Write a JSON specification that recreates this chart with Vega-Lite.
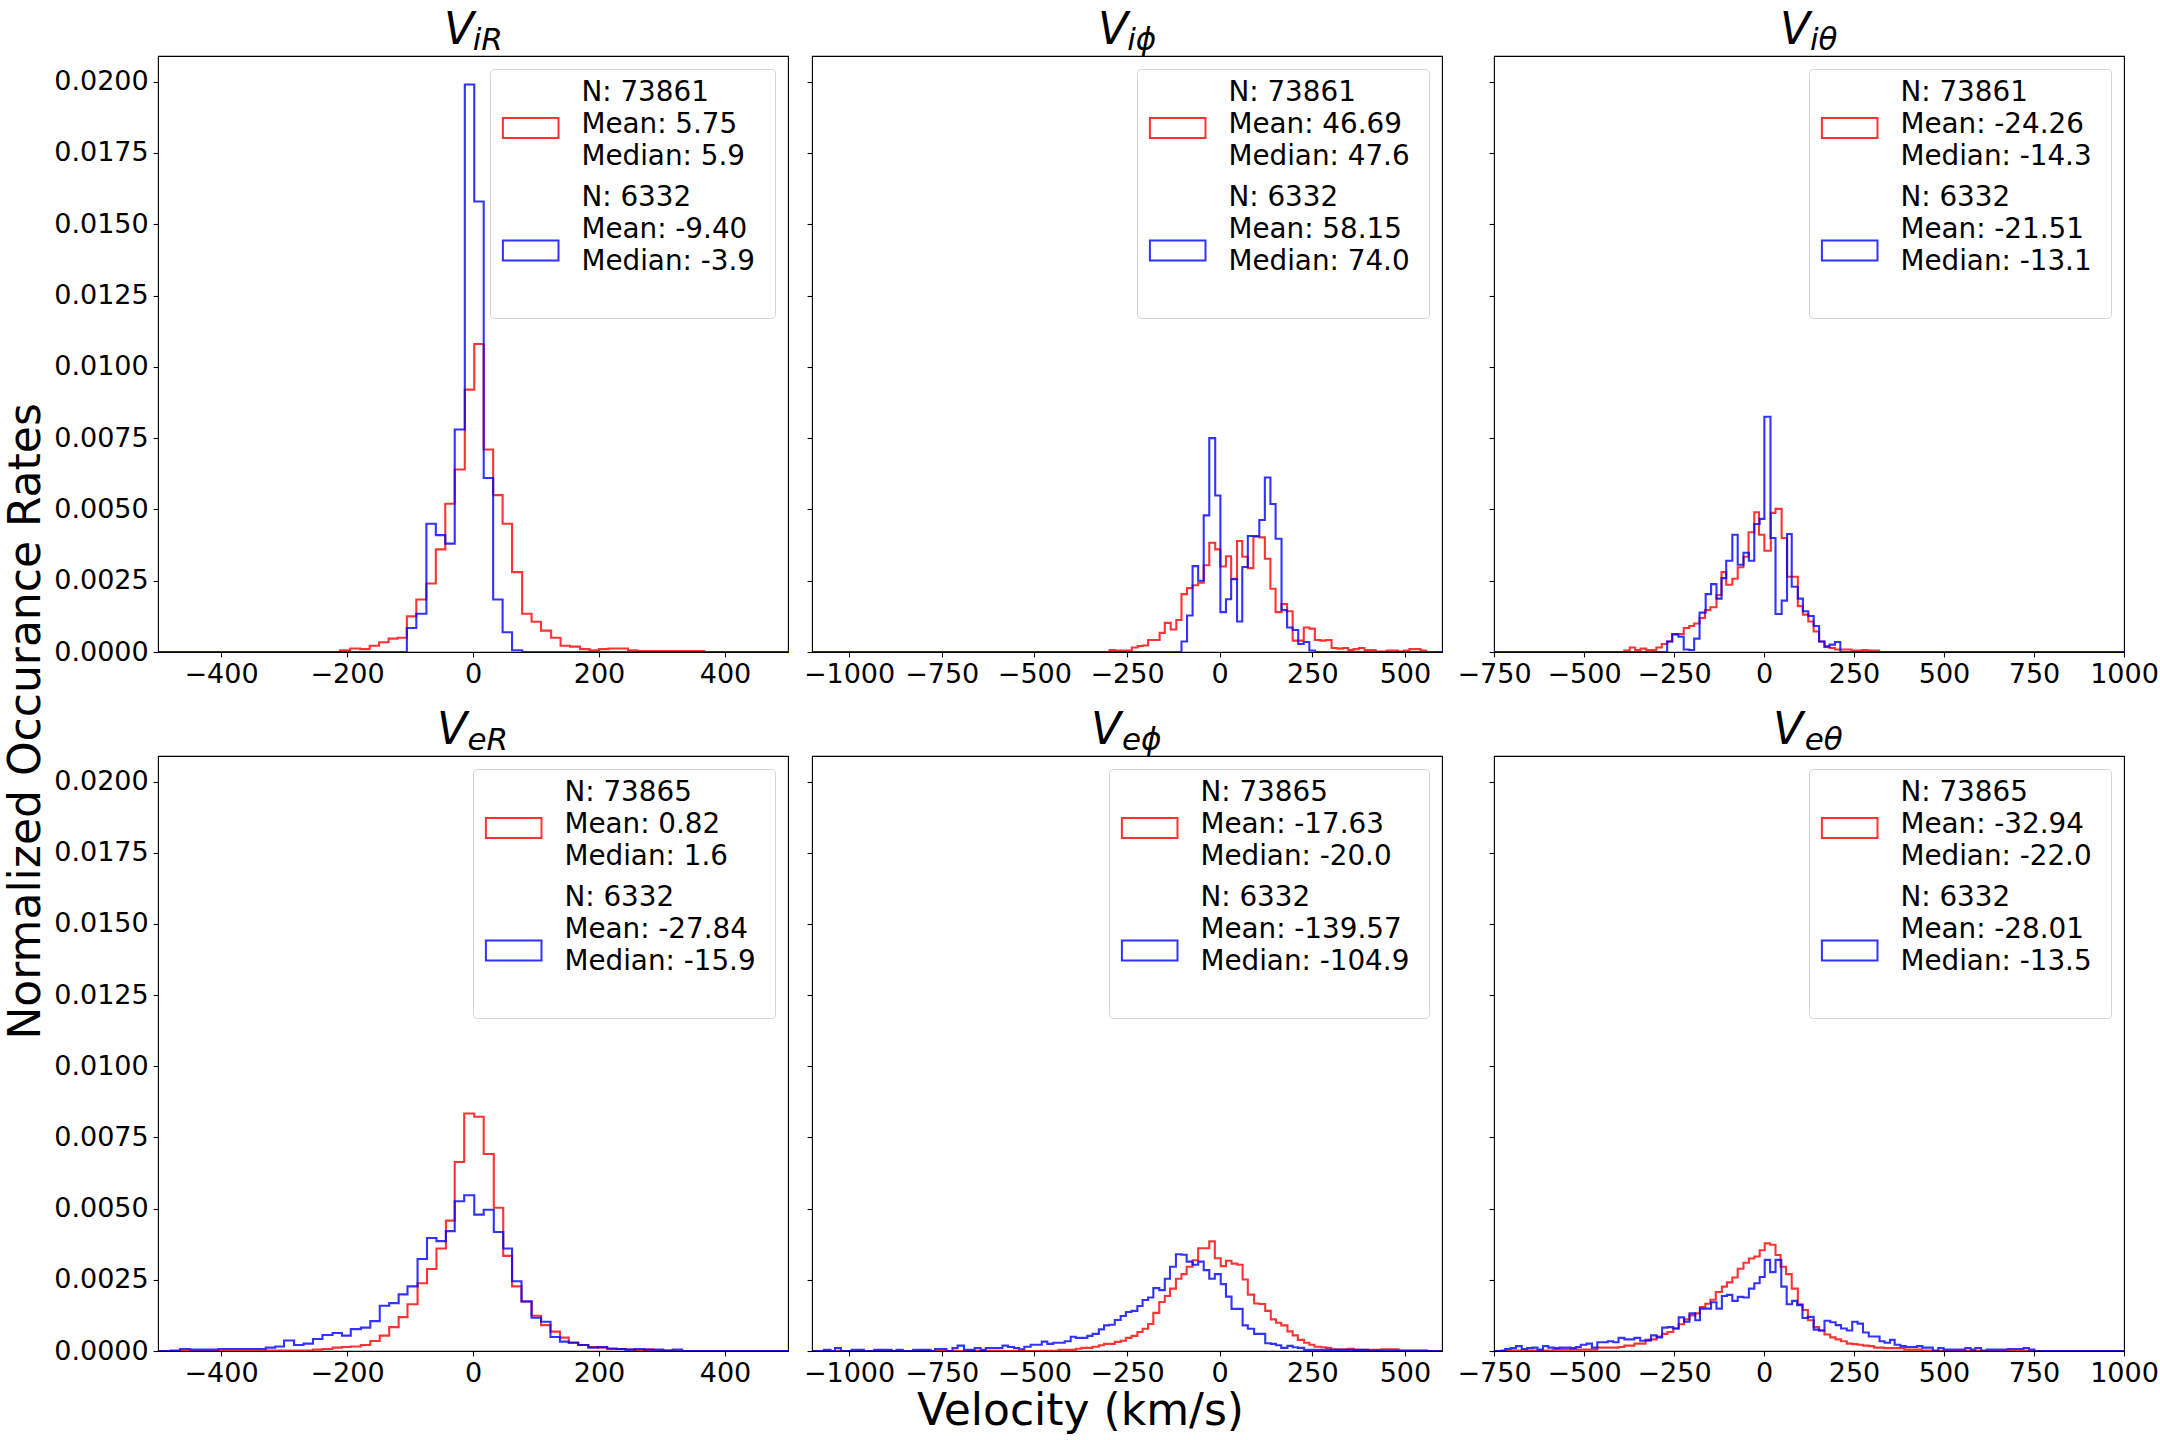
{
  "$schema": "https://vega.github.io/schema/vega-lite/v6.json",
  "background": "white",
  "padding": {"left": 5, "top": 8, "right": 2, "bottom": 2},
  "config": {
    "font": "DejaVu Sans",
    "view": {"stroke": "black", "strokeWidth": 1.1},
    "style": {"guide-label": {"lineHeight": 32}},
    "axis": {
      "domain": false,
      "grid": false,
      "labelFont": "DejaVu Sans",
      "labelFontSize": 27,
      "labelColor": "black",
      "labelPadding": 4.9,
      "labelFlush": false,
      "labelOverlap": false,
      "tickColor": "black",
      "tickSize": 4.9,
      "tickWidth": 1.1,
      "titleFont": "DejaVu Sans",
      "titleFontSize": 44,
      "titleFontWeight": "normal",
      "titleColor": "black"
    },
    "legend": {
      "orient": "top-right",
      "offset": 13,
      "padding": 10,
      "cornerRadius": 4,
      "strokeColor": "#d4d4d4",
      "fillColor": "white",
      "labelFont": "DejaVu Sans",
      "labelFontSize": 27.8,
      "labelColor": "black",
      "labelLimit": 0,
      "labelOffset": 53.6,
      "rowPadding": 12,
      "symbolSize": 400,
      "symbolStrokeWidth": 2,
      "symbolOpacity": 0.8
    },
    "title": {
      "font": "DejaVu Sans",
      "fontSize": 44,
      "fontStyle": "italic",
      "fontWeight": "normal",
      "color": "black",
      "subtitleFont": "DejaVu Sans",
      "subtitleFontSize": 31,
      "subtitleFontStyle": "italic",
      "subtitleColor": "black",
      "subtitlePadding": -27,
      "anchor": "middle",
      "offset": 0.01
    }
  },
  "data": {
    "values": [
      {"p":"iR","s":"a","x":-500,"y":0},{"p":"iR","s":"a","x":-211,"y":0.00006},{"p":"iR","s":"a","x":-195,"y":0.000125},{"p":"iR","s":"a","x":-179,"y":0.0001},{"p":"iR","s":"a","x":-164,"y":0.00022},{"p":"iR","s":"a","x":-149,"y":0.00034},{"p":"iR","s":"a","x":-134,"y":0.00047},{"p":"iR","s":"a","x":-120,"y":0.0005},{"p":"iR","s":"a","x":-105,"y":0.00125},{"p":"iR","s":"a","x":-90,"y":0.00184},{"p":"iR","s":"a","x":-74,"y":0.0024},{"p":"iR","s":"a","x":-59,"y":0.0036},{"p":"iR","s":"a","x":-44,"y":0.0052},{"p":"iR","s":"a","x":-29,"y":0.0064},{"p":"iR","s":"a","x":-13,"y":0.0092},{"p":"iR","s":"a","x":2,"y":0.0108},{"p":"iR","s":"a","x":17,"y":0.0071},{"p":"iR","s":"a","x":32,"y":0.0055},{"p":"iR","s":"a","x":47,"y":0.0045},{"p":"iR","s":"a","x":62,"y":0.0028},{"p":"iR","s":"a","x":78,"y":0.00134},{"p":"iR","s":"a","x":93,"y":0.00106},{"p":"iR","s":"a","x":108,"y":0.00075},{"p":"iR","s":"a","x":124,"y":0.0005},{"p":"iR","s":"a","x":139,"y":0.00022},{"p":"iR","s":"a","x":154,"y":0.00019},{"p":"iR","s":"a","x":170,"y":0.0001},{"p":"iR","s":"a","x":185,"y":0.00006},{"p":"iR","s":"a","x":200,"y":0.0001},{"p":"iR","s":"a","x":215,"y":0.000125},{"p":"iR","s":"a","x":230,"y":0.000125},{"p":"iR","s":"a","x":246,"y":0.00006},{"p":"iR","s":"a","x":261,"y":0.00003},{"p":"iR","s":"a","x":367,"y":0},{"p":"iR","s":"a","x":500,"y":0},
      {"p":"iR","s":"b","x":-500,"y":0},{"p":"iR","s":"b","x":-105,"y":0.00084},{"p":"iR","s":"b","x":-90,"y":0.00134},{"p":"iR","s":"b","x":-74,"y":0.0045},{"p":"iR","s":"b","x":-59,"y":0.0041},{"p":"iR","s":"b","x":-44,"y":0.0038},{"p":"iR","s":"b","x":-29,"y":0.0078},{"p":"iR","s":"b","x":-13,"y":0.0199},{"p":"iR","s":"b","x":2,"y":0.0158},{"p":"iR","s":"b","x":17,"y":0.0061},{"p":"iR","s":"b","x":32,"y":0.00184},{"p":"iR","s":"b","x":47,"y":0.00069},{"p":"iR","s":"b","x":62,"y":0.00006},{"p":"iR","s":"b","x":78,"y":0},{"p":"iR","s":"b","x":500,"y":0},

      {"p":"iphi","s":"a","x":-1100,"y":0},{"p":"iphi","s":"a","x":-297,"y":0.00007},{"p":"iphi","s":"a","x":-282,"y":0.00005},{"p":"iphi","s":"a","x":-237,"y":0.00016},{"p":"iphi","s":"a","x":-221,"y":0.00021},{"p":"iphi","s":"a","x":-208,"y":0.00023},{"p":"iphi","s":"a","x":-193,"y":0.00042},{"p":"iphi","s":"a","x":-162,"y":0.00067},{"p":"iphi","s":"a","x":-148,"y":0.00102},{"p":"iphi","s":"a","x":-132,"y":0.00079},{"p":"iphi","s":"a","x":-117,"y":0.00112},{"p":"iphi","s":"a","x":-103,"y":0.00203},{"p":"iphi","s":"a","x":-88,"y":0.00224},{"p":"iphi","s":"a","x":-73,"y":0.00234},{"p":"iphi","s":"a","x":-58,"y":0.00243},{"p":"iphi","s":"a","x":-43,"y":0.00304},{"p":"iphi","s":"a","x":-28,"y":0.00383},{"p":"iphi","s":"a","x":-12,"y":0.0036},{"p":"iphi","s":"a","x":2,"y":0.003},{"p":"iphi","s":"a","x":17,"y":0.00336},{"p":"iphi","s":"a","x":31,"y":0.00257},{"p":"iphi","s":"a","x":47,"y":0.00389},{"p":"iphi","s":"a","x":61,"y":0.00334},{"p":"iphi","s":"a","x":76,"y":0.00294},{"p":"iphi","s":"a","x":91,"y":0.00404},{"p":"iphi","s":"a","x":107,"y":0.00402},{"p":"iphi","s":"a","x":122,"y":0.00327},{"p":"iphi","s":"a","x":137,"y":0.00222},{"p":"iphi","s":"a","x":151,"y":0.0014},{"p":"iphi","s":"a","x":167,"y":0.00168},{"p":"iphi","s":"a","x":182,"y":0.00143},{"p":"iphi","s":"a","x":197,"y":0.0004},{"p":"iphi","s":"a","x":212,"y":0.0004},{"p":"iphi","s":"a","x":227,"y":0.00086},{"p":"iphi","s":"a","x":242,"y":0.00082},{"p":"iphi","s":"a","x":257,"y":0.00042},{"p":"iphi","s":"a","x":272,"y":0.0004},{"p":"iphi","s":"a","x":287,"y":0.00042},{"p":"iphi","s":"a","x":302,"y":0.00014},{"p":"iphi","s":"a","x":318,"y":0.00012},{"p":"iphi","s":"a","x":333,"y":0.00014},{"p":"iphi","s":"a","x":347,"y":0.00007},{"p":"iphi","s":"a","x":361,"y":0.0001},{"p":"iphi","s":"a","x":376,"y":0.00014},{"p":"iphi","s":"a","x":391,"y":0.00007},{"p":"iphi","s":"a","x":421,"y":0.00002},{"p":"iphi","s":"a","x":451,"y":0.00005},{"p":"iphi","s":"a","x":481,"y":0.00002},{"p":"iphi","s":"a","x":497,"y":0.00005},{"p":"iphi","s":"a","x":512,"y":0.0001},{"p":"iphi","s":"a","x":542,"y":0.00005},{"p":"iphi","s":"a","x":557,"y":0},{"p":"iphi","s":"a","x":600,"y":0},
      {"p":"iphi","s":"b","x":-1100,"y":0},{"p":"iphi","s":"b","x":-103,"y":0.00037},{"p":"iphi","s":"b","x":-88,"y":0.00128},{"p":"iphi","s":"b","x":-73,"y":0.00301},{"p":"iphi","s":"b","x":-58,"y":0.0025},{"p":"iphi","s":"b","x":-43,"y":0.00479},{"p":"iphi","s":"b","x":-28,"y":0.0075},{"p":"iphi","s":"b","x":-12,"y":0.00549},{"p":"iphi","s":"b","x":2,"y":0.0014},{"p":"iphi","s":"b","x":17,"y":0.00185},{"p":"iphi","s":"b","x":31,"y":0.00255},{"p":"iphi","s":"b","x":47,"y":0.00107},{"p":"iphi","s":"b","x":61,"y":0.00298},{"p":"iphi","s":"b","x":76,"y":0.00407},{"p":"iphi","s":"b","x":107,"y":0.00463},{"p":"iphi","s":"b","x":122,"y":0.00612},{"p":"iphi","s":"b","x":137,"y":0.00519},{"p":"iphi","s":"b","x":151,"y":0.00397},{"p":"iphi","s":"b","x":167,"y":0.00147},{"p":"iphi","s":"b","x":182,"y":0.00086},{"p":"iphi","s":"b","x":197,"y":0.00077},{"p":"iphi","s":"b","x":212,"y":0.00028},{"p":"iphi","s":"b","x":227,"y":0.00035},{"p":"iphi","s":"b","x":242,"y":0.00005},{"p":"iphi","s":"b","x":257,"y":0},{"p":"iphi","s":"b","x":600,"y":0},

      {"p":"itheta","s":"a","x":-750,"y":0},{"p":"itheta","s":"a","x":-388,"y":0.00005},{"p":"itheta","s":"a","x":-373,"y":0.00016},{"p":"itheta","s":"a","x":-358,"y":0.00007},{"p":"itheta","s":"a","x":-343,"y":0.00012},{"p":"itheta","s":"a","x":-327,"y":0.00007},{"p":"itheta","s":"a","x":-299,"y":0.00016},{"p":"itheta","s":"a","x":-284,"y":0.00028},{"p":"itheta","s":"a","x":-269,"y":0.00037},{"p":"itheta","s":"a","x":-255,"y":0.00061},{"p":"itheta","s":"a","x":-240,"y":0.00063},{"p":"itheta","s":"a","x":-223,"y":0.00084},{"p":"itheta","s":"a","x":-208,"y":0.00091},{"p":"itheta","s":"a","x":-194,"y":0.001},{"p":"itheta","s":"a","x":-179,"y":0.00119},{"p":"itheta","s":"a","x":-164,"y":0.00147},{"p":"itheta","s":"a","x":-149,"y":0.00157},{"p":"itheta","s":"a","x":-132,"y":0.002},{"p":"itheta","s":"a","x":-118,"y":0.0028},{"p":"itheta","s":"a","x":-105,"y":0.00236},{"p":"itheta","s":"a","x":-88,"y":0.00257},{"p":"itheta","s":"a","x":-73,"y":0.00297},{"p":"itheta","s":"a","x":-57,"y":0.00334},{"p":"itheta","s":"a","x":-43,"y":0.0042},{"p":"itheta","s":"a","x":-27,"y":0.0049},{"p":"itheta","s":"a","x":-14,"y":0.00411},{"p":"itheta","s":"a","x":1,"y":0.00355},{"p":"itheta","s":"a","x":19,"y":0.00488},{"p":"itheta","s":"a","x":32,"y":0.00502},{"p":"itheta","s":"a","x":49,"y":0.004},{"p":"itheta","s":"a","x":64,"y":0.00264},{"p":"itheta","s":"a","x":94,"y":0.00161},{"p":"itheta","s":"a","x":108,"y":0.00131},{"p":"itheta","s":"a","x":123,"y":0.00107},{"p":"itheta","s":"a","x":138,"y":0.00072},{"p":"itheta","s":"a","x":153,"y":0.00037},{"p":"itheta","s":"a","x":168,"y":0.00019},{"p":"itheta","s":"a","x":182,"y":0.00014},{"p":"itheta","s":"a","x":197,"y":0.00009},{"p":"itheta","s":"a","x":243,"y":0.00005},{"p":"itheta","s":"a","x":273,"y":0.00007},{"p":"itheta","s":"a","x":288,"y":0.00005},{"p":"itheta","s":"a","x":319,"y":0},{"p":"itheta","s":"a","x":1000,"y":0},
      {"p":"itheta","s":"b","x":-750,"y":0},{"p":"itheta","s":"b","x":-269,"y":0.00037},{"p":"itheta","s":"b","x":-255,"y":0.00063},{"p":"itheta","s":"b","x":-238,"y":0.00054},{"p":"itheta","s":"b","x":-223,"y":0.00009},{"p":"itheta","s":"b","x":-208,"y":0.00007},{"p":"itheta","s":"b","x":-194,"y":0.00047},{"p":"itheta","s":"b","x":-179,"y":0.00138},{"p":"itheta","s":"b","x":-162,"y":0.00203},{"p":"itheta","s":"b","x":-147,"y":0.00238},{"p":"itheta","s":"b","x":-132,"y":0.00187},{"p":"itheta","s":"b","x":-118,"y":0.00259},{"p":"itheta","s":"b","x":-105,"y":0.0032},{"p":"itheta","s":"b","x":-88,"y":0.00411},{"p":"itheta","s":"b","x":-73,"y":0.00306},{"p":"itheta","s":"b","x":-57,"y":0.00348},{"p":"itheta","s":"b","x":-42,"y":0.0032},{"p":"itheta","s":"b","x":-27,"y":0.00449},{"p":"itheta","s":"b","x":-12,"y":0.00467},{"p":"itheta","s":"b","x":1,"y":0.00825},{"p":"itheta","s":"b","x":18,"y":0.004},{"p":"itheta","s":"b","x":32,"y":0.00133},{"p":"itheta","s":"b","x":49,"y":0.0018},{"p":"itheta","s":"b","x":64,"y":0.00414},{"p":"itheta","s":"b","x":77,"y":0.00229},{"p":"itheta","s":"b","x":94,"y":0.00187},{"p":"itheta","s":"b","x":108,"y":0.00143},{"p":"itheta","s":"b","x":123,"y":0.00126},{"p":"itheta","s":"b","x":138,"y":0.00091},{"p":"itheta","s":"b","x":153,"y":0.00037},{"p":"itheta","s":"b","x":168,"y":0.00019},{"p":"itheta","s":"b","x":182,"y":0.00026},{"p":"itheta","s":"b","x":197,"y":0.00035},{"p":"itheta","s":"b","x":212,"y":0},{"p":"itheta","s":"b","x":1000,"y":0},

      {"p":"eR","s":"a","x":-500,"y":0},{"p":"eR","s":"a","x":-329,"y":0.00002},{"p":"eR","s":"a","x":-254,"y":0.00005},{"p":"eR","s":"a","x":-239,"y":0.00007},{"p":"eR","s":"a","x":-223,"y":0.00012},{"p":"eR","s":"a","x":-208,"y":0.00014},{"p":"eR","s":"a","x":-194,"y":0.00016},{"p":"eR","s":"a","x":-178,"y":0.00021},{"p":"eR","s":"a","x":-163,"y":0.00035},{"p":"eR","s":"a","x":-148,"y":0.00054},{"p":"eR","s":"a","x":-133,"y":0.00084},{"p":"eR","s":"a","x":-118,"y":0.00119},{"p":"eR","s":"a","x":-104,"y":0.00164},{"p":"eR","s":"a","x":-88,"y":0.00238},{"p":"eR","s":"a","x":-73,"y":0.00288},{"p":"eR","s":"a","x":-58,"y":0.0036},{"p":"eR","s":"a","x":-43,"y":0.00458},{"p":"eR","s":"a","x":-29,"y":0.00664},{"p":"eR","s":"a","x":-14,"y":0.00834},{"p":"eR","s":"a","x":2,"y":0.00823},{"p":"eR","s":"a","x":17,"y":0.00692},{"p":"eR","s":"a","x":33,"y":0.00503},{"p":"eR","s":"a","x":48,"y":0.00334},{"p":"eR","s":"a","x":62,"y":0.00227},{"p":"eR","s":"a","x":77,"y":0.00173},{"p":"eR","s":"a","x":93,"y":0.00124},{"p":"eR","s":"a","x":108,"y":0.00091},{"p":"eR","s":"a","x":123,"y":0.00068},{"p":"eR","s":"a","x":138,"y":0.00047},{"p":"eR","s":"a","x":152,"y":0.00028},{"p":"eR","s":"a","x":167,"y":0.00021},{"p":"eR","s":"a","x":183,"y":0.00014},{"p":"eR","s":"a","x":198,"y":0.00012},{"p":"eR","s":"a","x":213,"y":0.00007},{"p":"eR","s":"a","x":242,"y":0.00005},{"p":"eR","s":"a","x":257,"y":0.00002},{"p":"eR","s":"a","x":272,"y":0.00005},{"p":"eR","s":"a","x":287,"y":0.00002},{"p":"eR","s":"a","x":317,"y":0},{"p":"eR","s":"a","x":500,"y":0},
      {"p":"eR","s":"b","x":-500,"y":0},{"p":"eR","s":"b","x":-480,"y":0.00002},{"p":"eR","s":"b","x":-465,"y":0.00007},{"p":"eR","s":"b","x":-449,"y":0.00005},{"p":"eR","s":"b","x":-404,"y":0.00007},{"p":"eR","s":"b","x":-329,"y":0.00012},{"p":"eR","s":"b","x":-314,"y":0.00016},{"p":"eR","s":"b","x":-300,"y":0.00037},{"p":"eR","s":"b","x":-284,"y":0.00021},{"p":"eR","s":"b","x":-269,"y":0.00026},{"p":"eR","s":"b","x":-254,"y":0.00042},{"p":"eR","s":"b","x":-239,"y":0.00056},{"p":"eR","s":"b","x":-223,"y":0.00063},{"p":"eR","s":"b","x":-208,"y":0.00054},{"p":"eR","s":"b","x":-194,"y":0.00077},{"p":"eR","s":"b","x":-178,"y":0.00082},{"p":"eR","s":"b","x":-163,"y":0.00105},{"p":"eR","s":"b","x":-148,"y":0.00159},{"p":"eR","s":"b","x":-133,"y":0.00168},{"p":"eR","s":"b","x":-118,"y":0.00199},{"p":"eR","s":"b","x":-104,"y":0.00227},{"p":"eR","s":"b","x":-88,"y":0.00323},{"p":"eR","s":"b","x":-73,"y":0.00397},{"p":"eR","s":"b","x":-58,"y":0.00386},{"p":"eR","s":"b","x":-43,"y":0.00421},{"p":"eR","s":"b","x":-29,"y":0.00526},{"p":"eR","s":"b","x":-14,"y":0.00547},{"p":"eR","s":"b","x":2,"y":0.00479},{"p":"eR","s":"b","x":17,"y":0.00496},{"p":"eR","s":"b","x":33,"y":0.00418},{"p":"eR","s":"b","x":48,"y":0.0036},{"p":"eR","s":"b","x":62,"y":0.00245},{"p":"eR","s":"b","x":77,"y":0.00175},{"p":"eR","s":"b","x":93,"y":0.00117},{"p":"eR","s":"b","x":108,"y":0.00103},{"p":"eR","s":"b","x":123,"y":0.00049},{"p":"eR","s":"b","x":138,"y":0.00033},{"p":"eR","s":"b","x":152,"y":0.0003},{"p":"eR","s":"b","x":167,"y":0.00021},{"p":"eR","s":"b","x":183,"y":0.00012},{"p":"eR","s":"b","x":198,"y":0.00014},{"p":"eR","s":"b","x":213,"y":0.00009},{"p":"eR","s":"b","x":228,"y":0.00007},{"p":"eR","s":"b","x":242,"y":0.00005},{"p":"eR","s":"b","x":257,"y":0.00007},{"p":"eR","s":"b","x":272,"y":0.00005},{"p":"eR","s":"b","x":302,"y":0.00002},{"p":"eR","s":"b","x":317,"y":0.00005},{"p":"eR","s":"b","x":332,"y":0},{"p":"eR","s":"b","x":500,"y":0},

      {"p":"ephi","s":"a","x":-1100,"y":0},{"p":"ephi","s":"a","x":-481,"y":0.00001},{"p":"ephi","s":"a","x":-434,"y":0.00004},{"p":"ephi","s":"a","x":-388,"y":0.00008},{"p":"ephi","s":"a","x":-373,"y":0.00011},{"p":"ephi","s":"a","x":-343,"y":0.00015},{"p":"ephi","s":"a","x":-326,"y":0.0002},{"p":"ephi","s":"a","x":-312,"y":0.00025},{"p":"ephi","s":"a","x":-283,"y":0.00032},{"p":"ephi","s":"a","x":-267,"y":0.00036},{"p":"ephi","s":"a","x":-253,"y":0.00046},{"p":"ephi","s":"a","x":-238,"y":0.00053},{"p":"ephi","s":"a","x":-222,"y":0.00067},{"p":"ephi","s":"a","x":-208,"y":0.00078},{"p":"ephi","s":"a","x":-193,"y":0.00095},{"p":"ephi","s":"a","x":-179,"y":0.00134},{"p":"ephi","s":"a","x":-163,"y":0.00172},{"p":"ephi","s":"a","x":-148,"y":0.00193},{"p":"ephi","s":"a","x":-134,"y":0.00219},{"p":"ephi","s":"a","x":-118,"y":0.00254},{"p":"ephi","s":"a","x":-103,"y":0.0027},{"p":"ephi","s":"a","x":-89,"y":0.00296},{"p":"ephi","s":"a","x":-73,"y":0.00319},{"p":"ephi","s":"a","x":-58,"y":0.00361},{"p":"ephi","s":"a","x":-28,"y":0.00385},{"p":"ephi","s":"a","x":-13,"y":0.00326},{"p":"ephi","s":"a","x":3,"y":0.00298},{"p":"ephi","s":"a","x":17,"y":0.00317},{"p":"ephi","s":"a","x":32,"y":0.00307},{"p":"ephi","s":"a","x":48,"y":0.00303},{"p":"ephi","s":"a","x":62,"y":0.00251},{"p":"ephi","s":"a","x":76,"y":0.00198},{"p":"ephi","s":"a","x":93,"y":0.00167},{"p":"ephi","s":"a","x":107,"y":0.00165},{"p":"ephi","s":"a","x":123,"y":0.00141},{"p":"ephi","s":"a","x":138,"y":0.00111},{"p":"ephi","s":"a","x":152,"y":0.00099},{"p":"ephi","s":"a","x":166,"y":0.0009},{"p":"ephi","s":"a","x":183,"y":0.00069},{"p":"ephi","s":"a","x":197,"y":0.00055},{"p":"ephi","s":"a","x":211,"y":0.00039},{"p":"ephi","s":"a","x":228,"y":0.00029},{"p":"ephi","s":"a","x":242,"y":0.00022},{"p":"ephi","s":"a","x":256,"y":0.00015},{"p":"ephi","s":"a","x":273,"y":0.00013},{"p":"ephi","s":"a","x":287,"y":0.00011},{"p":"ephi","s":"a","x":301,"y":0.00006},{"p":"ephi","s":"a","x":346,"y":0.00008},{"p":"ephi","s":"a","x":362,"y":0.00004},{"p":"ephi","s":"a","x":436,"y":0.00006},{"p":"ephi","s":"a","x":483,"y":0.00001},{"p":"ephi","s":"a","x":560,"y":0},{"p":"ephi","s":"a","x":600,"y":0},
      {"p":"ephi","s":"b","x":-1100,"y":0},{"p":"ephi","s":"b","x":-1068,"y":0.00004},{"p":"ephi","s":"b","x":-1050,"y":0},{"p":"ephi","s":"b","x":-1038,"y":0.0001},{"p":"ephi","s":"b","x":-1022,"y":0},{"p":"ephi","s":"b","x":-993,"y":0.00004},{"p":"ephi","s":"b","x":-960,"y":0},{"p":"ephi","s":"b","x":-932,"y":0.00004},{"p":"ephi","s":"b","x":-885,"y":0},{"p":"ephi","s":"b","x":-872,"y":0.00004},{"p":"ephi","s":"b","x":-855,"y":0},{"p":"ephi","s":"b","x":-827,"y":0.00004},{"p":"ephi","s":"b","x":-780,"y":0},{"p":"ephi","s":"b","x":-768,"y":0.00007},{"p":"ephi","s":"b","x":-737,"y":0},{"p":"ephi","s":"b","x":-721,"y":0.0001},{"p":"ephi","s":"b","x":-707,"y":0.00019},{"p":"ephi","s":"b","x":-690,"y":0.00004},{"p":"ephi","s":"b","x":-661,"y":0.0001},{"p":"ephi","s":"b","x":-645,"y":0.00004},{"p":"ephi","s":"b","x":-631,"y":0.0001},{"p":"ephi","s":"b","x":-586,"y":0.00019},{"p":"ephi","s":"b","x":-571,"y":0.00014},{"p":"ephi","s":"b","x":-555,"y":0.0001},{"p":"ephi","s":"b","x":-541,"y":0.00006},{"p":"ephi","s":"b","x":-527,"y":0.00015},{"p":"ephi","s":"b","x":-510,"y":0.00022},{"p":"ephi","s":"b","x":-480,"y":0.00033},{"p":"ephi","s":"b","x":-465,"y":0.00025},{"p":"ephi","s":"b","x":-449,"y":0.00029},{"p":"ephi","s":"b","x":-418,"y":0.00034},{"p":"ephi","s":"b","x":-402,"y":0.0005},{"p":"ephi","s":"b","x":-388,"y":0.00046},{"p":"ephi","s":"b","x":-357,"y":0.00053},{"p":"ephi","s":"b","x":-343,"y":0.0006},{"p":"ephi","s":"b","x":-326,"y":0.00076},{"p":"ephi","s":"b","x":-312,"y":0.0009},{"p":"ephi","s":"b","x":-298,"y":0.00092},{"p":"ephi","s":"b","x":-283,"y":0.00109},{"p":"ephi","s":"b","x":-267,"y":0.00123},{"p":"ephi","s":"b","x":-253,"y":0.00137},{"p":"ephi","s":"b","x":-238,"y":0.00141},{"p":"ephi","s":"b","x":-222,"y":0.00158},{"p":"ephi","s":"b","x":-208,"y":0.00179},{"p":"ephi","s":"b","x":-193,"y":0.00188},{"p":"ephi","s":"b","x":-179,"y":0.00221},{"p":"ephi","s":"b","x":-163,"y":0.00214},{"p":"ephi","s":"b","x":-148,"y":0.00254},{"p":"ephi","s":"b","x":-134,"y":0.00296},{"p":"ephi","s":"b","x":-118,"y":0.0034},{"p":"ephi","s":"b","x":-103,"y":0.00338},{"p":"ephi","s":"b","x":-89,"y":0.00314},{"p":"ephi","s":"b","x":-73,"y":0.00303},{"p":"ephi","s":"b","x":-58,"y":0.00314},{"p":"ephi","s":"b","x":-43,"y":0.00284},{"p":"ephi","s":"b","x":-28,"y":0.00254},{"p":"ephi","s":"b","x":-13,"y":0.0027},{"p":"ephi","s":"b","x":3,"y":0.00235},{"p":"ephi","s":"b","x":17,"y":0.00191},{"p":"ephi","s":"b","x":32,"y":0.00148},{"p":"ephi","s":"b","x":62,"y":0.0009},{"p":"ephi","s":"b","x":76,"y":0.00078},{"p":"ephi","s":"b","x":93,"y":0.0006},{"p":"ephi","s":"b","x":123,"y":0.00027},{"p":"ephi","s":"b","x":138,"y":0.00025},{"p":"ephi","s":"b","x":152,"y":0.0002},{"p":"ephi","s":"b","x":166,"y":0.00011},{"p":"ephi","s":"b","x":183,"y":0.00018},{"p":"ephi","s":"b","x":197,"y":0.00013},{"p":"ephi","s":"b","x":211,"y":0.00011},{"p":"ephi","s":"b","x":228,"y":0.00004},{"p":"ephi","s":"b","x":400,"y":0.00002},{"p":"ephi","s":"b","x":560,"y":0},{"p":"ephi","s":"b","x":600,"y":0},

      {"p":"etheta","s":"a","x":-750,"y":0},{"p":"etheta","s":"a","x":-700,"y":0.00002},{"p":"etheta","s":"a","x":-585,"y":0.00005},{"p":"etheta","s":"a","x":-463,"y":0.00012},{"p":"etheta","s":"a","x":-404,"y":0.00014},{"p":"etheta","s":"a","x":-388,"y":0.00019},{"p":"etheta","s":"a","x":-360,"y":0.00026},{"p":"etheta","s":"a","x":-329,"y":0.00036},{"p":"etheta","s":"a","x":-314,"y":0.00041},{"p":"etheta","s":"a","x":-298,"y":0.00051},{"p":"etheta","s":"a","x":-283,"y":0.0006},{"p":"etheta","s":"a","x":-268,"y":0.00067},{"p":"etheta","s":"a","x":-252,"y":0.00079},{"p":"etheta","s":"a","x":-237,"y":0.00094},{"p":"etheta","s":"a","x":-222,"y":0.00111},{"p":"etheta","s":"a","x":-207,"y":0.00125},{"p":"etheta","s":"a","x":-191,"y":0.00132},{"p":"etheta","s":"a","x":-178,"y":0.00154},{"p":"etheta","s":"a","x":-163,"y":0.00166},{"p":"etheta","s":"a","x":-149,"y":0.0018},{"p":"etheta","s":"a","x":-134,"y":0.00207},{"p":"etheta","s":"a","x":-117,"y":0.00226},{"p":"etheta","s":"a","x":-103,"y":0.00241},{"p":"etheta","s":"a","x":-88,"y":0.00258},{"p":"etheta","s":"a","x":-73,"y":0.00289},{"p":"etheta","s":"a","x":-57,"y":0.0031},{"p":"etheta","s":"a","x":-42,"y":0.00325},{"p":"etheta","s":"a","x":-27,"y":0.00332},{"p":"etheta","s":"a","x":-12,"y":0.00354},{"p":"etheta","s":"a","x":2,"y":0.00378},{"p":"etheta","s":"a","x":17,"y":0.00373},{"p":"etheta","s":"a","x":32,"y":0.00337},{"p":"etheta","s":"a","x":46,"y":0.00296},{"p":"etheta","s":"a","x":61,"y":0.0027},{"p":"etheta","s":"a","x":77,"y":0.00219},{"p":"etheta","s":"a","x":94,"y":0.00164},{"p":"etheta","s":"a","x":107,"y":0.00144},{"p":"etheta","s":"a","x":122,"y":0.00108},{"p":"etheta","s":"a","x":138,"y":0.00084},{"p":"etheta","s":"a","x":153,"y":0.00072},{"p":"etheta","s":"a","x":168,"y":0.00058},{"p":"etheta","s":"a","x":184,"y":0.00048},{"p":"etheta","s":"a","x":199,"y":0.00041},{"p":"etheta","s":"a","x":214,"y":0.00034},{"p":"etheta","s":"a","x":230,"y":0.00026},{"p":"etheta","s":"a","x":245,"y":0.00024},{"p":"etheta","s":"a","x":260,"y":0.00022},{"p":"etheta","s":"a","x":275,"y":0.00019},{"p":"etheta","s":"a","x":291,"y":0.00017},{"p":"etheta","s":"a","x":306,"y":0.00012},{"p":"etheta","s":"a","x":333,"y":0.0001},{"p":"etheta","s":"a","x":390,"y":0.00005},{"p":"etheta","s":"a","x":438,"y":0.00002},{"p":"etheta","s":"a","x":470,"y":0},{"p":"etheta","s":"a","x":1000,"y":0},
      {"p":"etheta","s":"b","x":-750,"y":0},{"p":"etheta","s":"b","x":-729,"y":0.00002},{"p":"etheta","s":"b","x":-719,"y":0.00007},{"p":"etheta","s":"b","x":-704,"y":0.0001},{"p":"etheta","s":"b","x":-689,"y":0.00017},{"p":"etheta","s":"b","x":-673,"y":0.00007},{"p":"etheta","s":"b","x":-658,"y":0.0001},{"p":"etheta","s":"b","x":-643,"y":0.00012},{"p":"etheta","s":"b","x":-629,"y":0.00005},{"p":"etheta","s":"b","x":-614,"y":0.00017},{"p":"etheta","s":"b","x":-599,"y":0.00012},{"p":"etheta","s":"b","x":-583,"y":0.0001},{"p":"etheta","s":"b","x":-568,"y":0.00012},{"p":"etheta","s":"b","x":-537,"y":0.0001},{"p":"etheta","s":"b","x":-522,"y":0.00014},{"p":"etheta","s":"b","x":-509,"y":0.00022},{"p":"etheta","s":"b","x":-493,"y":0.00026},{"p":"etheta","s":"b","x":-478,"y":0.00012},{"p":"etheta","s":"b","x":-463,"y":0.00031},{"p":"etheta","s":"b","x":-434,"y":0.00034},{"p":"etheta","s":"b","x":-419,"y":0.00031},{"p":"etheta","s":"b","x":-404,"y":0.00046},{"p":"etheta","s":"b","x":-388,"y":0.00041},{"p":"etheta","s":"b","x":-360,"y":0.00046},{"p":"etheta","s":"b","x":-344,"y":0.00036},{"p":"etheta","s":"b","x":-329,"y":0.00039},{"p":"etheta","s":"b","x":-314,"y":0.00055},{"p":"etheta","s":"b","x":-298,"y":0.00048},{"p":"etheta","s":"b","x":-283,"y":0.00082},{"p":"etheta","s":"b","x":-268,"y":0.00084},{"p":"etheta","s":"b","x":-252,"y":0.00079},{"p":"etheta","s":"b","x":-237,"y":0.00118},{"p":"etheta","s":"b","x":-222,"y":0.00103},{"p":"etheta","s":"b","x":-207,"y":0.00132},{"p":"etheta","s":"b","x":-191,"y":0.00108},{"p":"etheta","s":"b","x":-178,"y":0.00149},{"p":"etheta","s":"b","x":-147,"y":0.00171},{"p":"etheta","s":"b","x":-132,"y":0.00149},{"p":"etheta","s":"b","x":-117,"y":0.00193},{"p":"etheta","s":"b","x":-103,"y":0.00197},{"p":"etheta","s":"b","x":-88,"y":0.00176},{"p":"etheta","s":"b","x":-73,"y":0.0019},{"p":"etheta","s":"b","x":-57,"y":0.00188},{"p":"etheta","s":"b","x":-42,"y":0.00219},{"p":"etheta","s":"b","x":-27,"y":0.00238},{"p":"etheta","s":"b","x":-12,"y":0.0026},{"p":"etheta","s":"b","x":2,"y":0.0032},{"p":"etheta","s":"b","x":17,"y":0.00277},{"p":"etheta","s":"b","x":32,"y":0.0032},{"p":"etheta","s":"b","x":48,"y":0.00226},{"p":"etheta","s":"b","x":63,"y":0.00164},{"p":"etheta","s":"b","x":78,"y":0.00176},{"p":"etheta","s":"b","x":92,"y":0.00161},{"p":"etheta","s":"b","x":107,"y":0.00116},{"p":"etheta","s":"b","x":122,"y":0.0012},{"p":"etheta","s":"b","x":138,"y":0.00075},{"p":"etheta","s":"b","x":153,"y":0.00072},{"p":"etheta","s":"b","x":168,"y":0.00106},{"p":"etheta","s":"b","x":184,"y":0.00101},{"p":"etheta","s":"b","x":199,"y":0.00091},{"p":"etheta","s":"b","x":214,"y":0.00079},{"p":"etheta","s":"b","x":230,"y":0.00072},{"p":"etheta","s":"b","x":245,"y":0.00103},{"p":"etheta","s":"b","x":260,"y":0.00096},{"p":"etheta","s":"b","x":275,"y":0.00065},{"p":"etheta","s":"b","x":291,"y":0.00051},{"p":"etheta","s":"b","x":321,"y":0.00034},{"p":"etheta","s":"b","x":335,"y":0.00029},{"p":"etheta","s":"b","x":350,"y":0.00039},{"p":"etheta","s":"b","x":363,"y":0.00022},{"p":"etheta","s":"b","x":379,"y":0.00017},{"p":"etheta","s":"b","x":394,"y":0.00014},{"p":"etheta","s":"b","x":425,"y":0.00017},{"p":"etheta","s":"b","x":440,"y":0.00012},{"p":"etheta","s":"b","x":469,"y":0.00002},{"p":"etheta","s":"b","x":484,"y":0.0001},{"p":"etheta","s":"b","x":499,"y":0.00005},{"p":"etheta","s":"b","x":559,"y":0.0001},{"p":"etheta","s":"b","x":574,"y":0.00005},{"p":"etheta","s":"b","x":587,"y":0.0001},{"p":"etheta","s":"b","x":603,"y":0.00002},{"p":"etheta","s":"b","x":618,"y":0.00005},{"p":"etheta","s":"b","x":677,"y":0.00007},{"p":"etheta","s":"b","x":721,"y":0.0001},{"p":"etheta","s":"b","x":736,"y":0.00005},{"p":"etheta","s":"b","x":751,"y":0},{"p":"etheta","s":"b","x":1000,"y":0}
    ]
  },
  "title": {
    "text": "Normalized Occurance Rates",
    "orient": "left",
    "anchor": "middle",
    "fontSize": 44,
    "fontStyle": "normal",
    "fontWeight": "normal",
    "offset": 4
  },
  "spacing": 19,
  "resolve": {"scale": {"color": "independent", "shape": "independent", "x": "independent", "y": "independent"}, "legend": {"color": "independent", "shape": "independent"}},
  "vconcat": [
    {
      "spacing": 13,
      "resolve": {"scale": {"color": "independent", "shape": "independent", "x": "independent", "y": "independent"}, "legend": {"color": "independent", "shape": "independent"}},
      "hconcat": [
        {
          "width": 630, "height": 596,
          "title": {"text": "V\u00a0\u00a0\u200b", "subtitle": "\u200b\u00a0\u00a0\u00a0iR"},
          "transform": [{"filter": "datum.p == 'iR'"}],
          "encoding": {
            "x": {"field": "x", "type": "quantitative", "scale": {"domain": [-500, 500], "nice": false, "zero": false}, "axis": {"values": [-400, -200, 0, 200, 400], "format": "d", "title": null}},
            "y": {"field": "y", "type": "quantitative", "scale": {"domain": [0, 0.0209], "nice": false}, "axis": {"values": [0, 0.0025, 0.005, 0.0075, 0.01, 0.0125, 0.015, 0.0175, 0.02], "format": ".4f", "title": null}},
            "color": {"field": "s", "type": "nominal", "scale": {"domain": ["a", "b"], "range": ["#ff0000", "#0000ff"]},
              "legend": {"title": null, "symbolFillColor": "transparent", "labelExpr": "datum.value == 'a' ? ['N: 73861', 'Mean: 5.75', 'Median: 5.9\u2004\u200b'] : ['N: 6332', 'Mean: -9.40\u2004\u200b', 'Median: -3.9\u2004\u200b', '']"}}
          },
          "layer": [
            {"mark": {"type": "line", "interpolate": "step-after", "strokeWidth": 2.1, "opacity": 0.8, "clip": true}},
            {"transform": [{"filter": "false"}], "mark": {"type": "point"},
              "encoding": {"shape": {"field": "s", "type": "nominal", "scale": {"domain": ["a", "b"], "range": ["M-1.1,2.5H4.46V4.5H-1.1Z", "M-1.1,4.27H4.46V6.27H-1.1Z"]},
                "legend": {"title": null, "symbolFillColor": "transparent", "labelExpr": "datum.value == 'a' ? ['N: 73861', 'Mean: 5.75', 'Median: 5.9\u2004\u200b'] : ['N: 6332', 'Mean: -9.40\u2004\u200b', 'Median: -3.9\u2004\u200b', '']"}}}}
          ]
        },
        {
          "width": 630, "height": 596,
          "title": {"text": "V\u00a0\u00a0\u200b", "subtitle": "\u200b\u00a0\u00a0\u00a0i\u03d5"},
          "transform": [{"filter": "datum.p == 'iphi'"}],
          "encoding": {
            "x": {"field": "x", "type": "quantitative", "scale": {"domain": [-1100, 600], "nice": false, "zero": false}, "axis": {"values": [-1000, -750, -500, -250, 0, 250, 500], "format": "d", "title": null}},
            "y": {"field": "y", "type": "quantitative", "scale": {"domain": [0, 0.0209], "nice": false}, "axis": {"values": [0, 0.0025, 0.005, 0.0075, 0.01, 0.0125, 0.015, 0.0175, 0.02], "labels": false, "title": null}},
            "color": {"field": "s", "type": "nominal", "scale": {"domain": ["a", "b"], "range": ["#ff0000", "#0000ff"]},
              "legend": {"title": null, "symbolFillColor": "transparent", "labelExpr": "datum.value == 'a' ? ['N: 73861', 'Mean: 46.69', 'Median: 47.6\u2004\u200b'] : ['N: 6332', 'Mean: 58.15', 'Median: 74.0\u2004\u200b', '']"}}
          },
          "layer": [
            {"mark": {"type": "line", "interpolate": "step-after", "strokeWidth": 2.1, "opacity": 0.8, "clip": true}},
            {"transform": [{"filter": "false"}], "mark": {"type": "point"},
              "encoding": {"shape": {"field": "s", "type": "nominal", "scale": {"domain": ["a", "b"], "range": ["M-1.1,2.5H4.46V4.5H-1.1Z", "M-1.1,4.27H4.46V6.27H-1.1Z"]},
                "legend": {"title": null, "symbolFillColor": "transparent", "labelExpr": "datum.value == 'a' ? ['N: 73861', 'Mean: 46.69', 'Median: 47.6\u2004\u200b'] : ['N: 6332', 'Mean: 58.15', 'Median: 74.0\u2004\u200b', '']"}}}}
          ]
        },
        {
          "width": 630, "height": 596,
          "title": {"text": "V\u00a0\u00a0\u200b", "subtitle": "\u200b\u00a0\u00a0\u00a0i\u03b8"},
          "transform": [{"filter": "datum.p == 'itheta'"}],
          "encoding": {
            "x": {"field": "x", "type": "quantitative", "scale": {"domain": [-750, 1000], "nice": false, "zero": false}, "axis": {"values": [-750, -500, -250, 0, 250, 500, 750, 1000], "format": "d", "title": null}},
            "y": {"field": "y", "type": "quantitative", "scale": {"domain": [0, 0.0209], "nice": false}, "axis": {"values": [0, 0.0025, 0.005, 0.0075, 0.01, 0.0125, 0.015, 0.0175, 0.02], "labels": false, "title": null}},
            "color": {"field": "s", "type": "nominal", "scale": {"domain": ["a", "b"], "range": ["#ff0000", "#0000ff"]},
              "legend": {"title": null, "symbolFillColor": "transparent", "labelExpr": "datum.value == 'a' ? ['N: 73861', 'Mean: -24.26\u2004\u200b', 'Median: -14.3\u2004\u200b'] : ['N: 6332', 'Mean: -21.51\u2004\u200b', 'Median: -13.1\u2004\u200b', '']"}}
          },
          "layer": [
            {"mark": {"type": "line", "interpolate": "step-after", "strokeWidth": 2.1, "opacity": 0.8, "clip": true}},
            {"transform": [{"filter": "false"}], "mark": {"type": "point"},
              "encoding": {"shape": {"field": "s", "type": "nominal", "scale": {"domain": ["a", "b"], "range": ["M-1.1,2.5H4.46V4.5H-1.1Z", "M-1.1,4.27H4.46V6.27H-1.1Z"]},
                "legend": {"title": null, "symbolFillColor": "transparent", "labelExpr": "datum.value == 'a' ? ['N: 73861', 'Mean: -24.26\u2004\u200b', 'Median: -14.3\u2004\u200b'] : ['N: 6332', 'Mean: -21.51\u2004\u200b', 'Median: -13.1\u2004\u200b', '']"}}}}
          ]
        }
      ]
    },
    {
      "spacing": 13,
      "resolve": {"scale": {"color": "independent", "shape": "independent", "x": "independent", "y": "independent"}, "legend": {"color": "independent", "shape": "independent"}},
      "hconcat": [
        {
          "width": 630, "height": 595,
          "title": {"text": "V\u00a0\u00a0\u00a0\u200b", "subtitle": "\u200b\u00a0\u00a0\u00a0eR"},
          "transform": [{"filter": "datum.p == 'eR'"}],
          "encoding": {
            "x": {"field": "x", "type": "quantitative", "scale": {"domain": [-500, 500], "nice": false, "zero": false}, "axis": {"values": [-400, -200, 0, 200, 400], "format": "d", "title": null}},
            "y": {"field": "y", "type": "quantitative", "scale": {"domain": [0, 0.0209], "nice": false}, "axis": {"values": [0, 0.0025, 0.005, 0.0075, 0.01, 0.0125, 0.015, 0.0175, 0.02], "format": ".4f", "title": null}},
            "color": {"field": "s", "type": "nominal", "scale": {"domain": ["a", "b"], "range": ["#ff0000", "#0000ff"]},
              "legend": {"title": null, "symbolFillColor": "transparent", "labelExpr": "datum.value == 'a' ? ['N: 73865', 'Mean: 0.82', 'Median: 1.6'] : ['N: 6332', 'Mean: -27.84\u2004\u200b', 'Median: -15.9\u2004\u200b', '']"}}
          },
          "layer": [
            {"mark": {"type": "line", "interpolate": "step-after", "strokeWidth": 2.1, "opacity": 0.8, "clip": true}},
            {"transform": [{"filter": "false"}], "mark": {"type": "point"},
              "encoding": {"shape": {"field": "s", "type": "nominal", "scale": {"domain": ["a", "b"], "range": ["M-1.1,2.5H4.46V4.5H-1.1Z", "M-1.1,4.27H4.46V6.27H-1.1Z"]},
                "legend": {"title": null, "symbolFillColor": "transparent", "labelExpr": "datum.value == 'a' ? ['N: 73865', 'Mean: 0.82', 'Median: 1.6'] : ['N: 6332', 'Mean: -27.84\u2004\u200b', 'Median: -15.9\u2004\u200b', '']"}}}}
          ]
        },
        {
          "width": 630, "height": 595,
          "title": {"text": "V\u00a0\u00a0\u00a0\u200b", "subtitle": "\u200b\u00a0\u00a0\u00a0e\u03d5"},
          "transform": [{"filter": "datum.p == 'ephi'"}],
          "encoding": {
            "x": {"field": "x", "type": "quantitative", "scale": {"domain": [-1100, 600], "nice": false, "zero": false}, "axis": {"values": [-1000, -750, -500, -250, 0, 250, 500], "format": "d", "title": "Velocity (km/s)", "titleX": 268, "titlePadding": 3}},
            "y": {"field": "y", "type": "quantitative", "scale": {"domain": [0, 0.0209], "nice": false}, "axis": {"values": [0, 0.0025, 0.005, 0.0075, 0.01, 0.0125, 0.015, 0.0175, 0.02], "labels": false, "title": null}},
            "color": {"field": "s", "type": "nominal", "scale": {"domain": ["a", "b"], "range": ["#ff0000", "#0000ff"]},
              "legend": {"title": null, "symbolFillColor": "transparent", "labelExpr": "datum.value == 'a' ? ['N: 73865', 'Mean: -17.63', 'Median: -20.0'] : ['N: 6332', 'Mean: -139.57\u2004\u200b', 'Median: -104.9\u2004\u200b', '']"}}
          },
          "layer": [
            {"mark": {"type": "line", "interpolate": "step-after", "strokeWidth": 2.1, "opacity": 0.8, "clip": true}},
            {"transform": [{"filter": "false"}], "mark": {"type": "point"},
              "encoding": {"shape": {"field": "s", "type": "nominal", "scale": {"domain": ["a", "b"], "range": ["M-1.1,2.5H4.46V4.5H-1.1Z", "M-1.1,4.27H4.46V6.27H-1.1Z"]},
                "legend": {"title": null, "symbolFillColor": "transparent", "labelExpr": "datum.value == 'a' ? ['N: 73865', 'Mean: -17.63', 'Median: -20.0'] : ['N: 6332', 'Mean: -139.57\u2004\u200b', 'Median: -104.9\u2004\u200b', '']"}}}}
          ]
        },
        {
          "width": 630, "height": 595,
          "title": {"text": "V\u00a0\u00a0\u00a0\u200b", "subtitle": "\u200b\u00a0\u00a0\u00a0e\u03b8"},
          "transform": [{"filter": "datum.p == 'etheta'"}],
          "encoding": {
            "x": {"field": "x", "type": "quantitative", "scale": {"domain": [-750, 1000], "nice": false, "zero": false}, "axis": {"values": [-750, -500, -250, 0, 250, 500, 750, 1000], "format": "d", "title": null}},
            "y": {"field": "y", "type": "quantitative", "scale": {"domain": [0, 0.0209], "nice": false}, "axis": {"values": [0, 0.0025, 0.005, 0.0075, 0.01, 0.0125, 0.015, 0.0175, 0.02], "labels": false, "title": null}},
            "color": {"field": "s", "type": "nominal", "scale": {"domain": ["a", "b"], "range": ["#ff0000", "#0000ff"]},
              "legend": {"title": null, "symbolFillColor": "transparent", "labelExpr": "datum.value == 'a' ? ['N: 73865', 'Mean: -32.94\u2004\u200b', 'Median: -22.0\u2004\u200b'] : ['N: 6332', 'Mean: -28.01\u2004\u200b', 'Median: -13.5\u2004\u200b', '']"}}
          },
          "layer": [
            {"mark": {"type": "line", "interpolate": "step-after", "strokeWidth": 2.1, "opacity": 0.8, "clip": true}},
            {"transform": [{"filter": "false"}], "mark": {"type": "point"},
              "encoding": {"shape": {"field": "s", "type": "nominal", "scale": {"domain": ["a", "b"], "range": ["M-1.1,2.5H4.46V4.5H-1.1Z", "M-1.1,4.27H4.46V6.27H-1.1Z"]},
                "legend": {"title": null, "symbolFillColor": "transparent", "labelExpr": "datum.value == 'a' ? ['N: 73865', 'Mean: -32.94\u2004\u200b', 'Median: -22.0\u2004\u200b'] : ['N: 6332', 'Mean: -28.01\u2004\u200b', 'Median: -13.5\u2004\u200b', '']"}}}}
          ]
        }
      ]
    }
  ]
}
